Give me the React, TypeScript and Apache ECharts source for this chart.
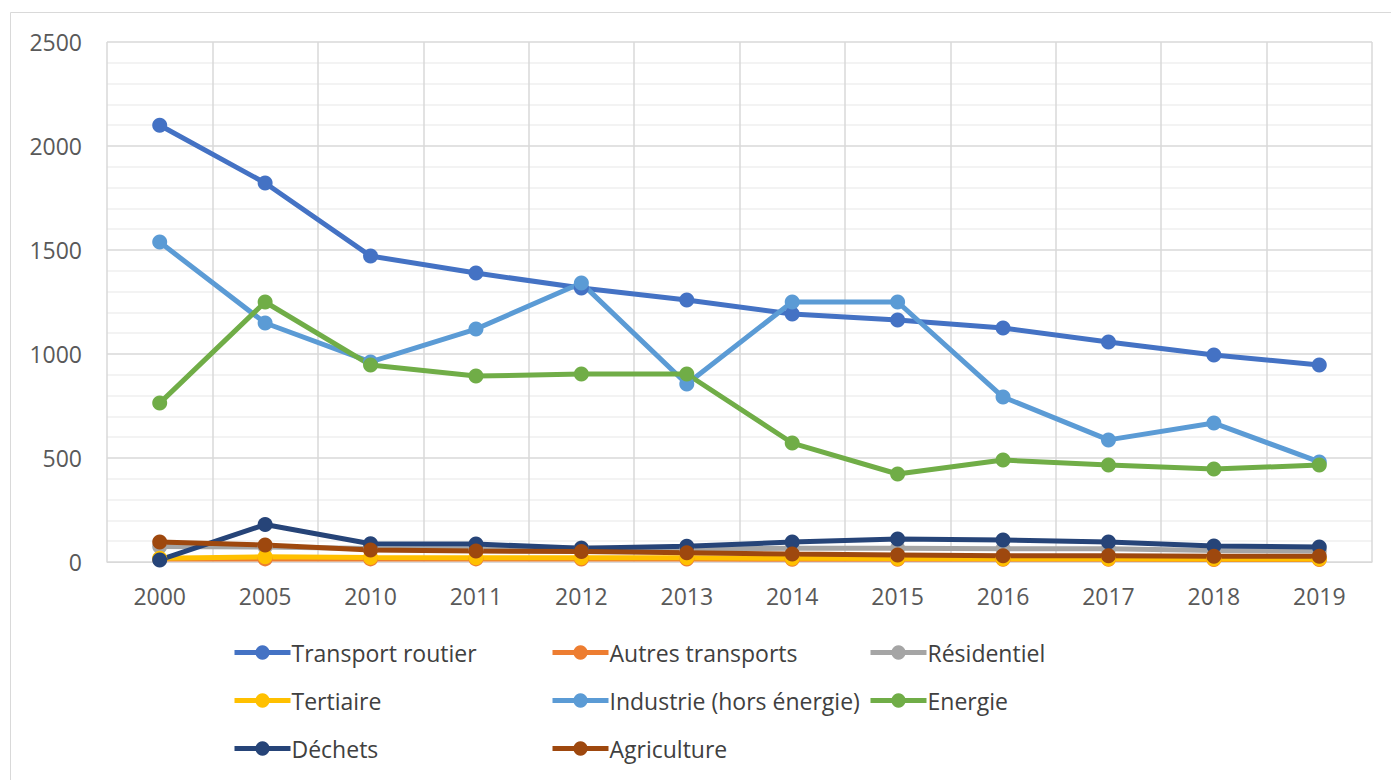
import React, { useEffect, useRef } from "react";
import * as echarts from "echarts";

const years = ["2000", "2005", "2010", "2011", "2012", "2013", "2014", "2015", "2016", "2017", "2018", "2019"];
const transportRoutier = [2100, 1822, 1471, 1389, 1317, 1260, 1192, 1163, 1125, 1058, 995, 947];
const autresTransports = [14, 15, 15, 15, 14, 14, 13, 13, 13, 13, 12, 12];
const residentiel = [75, 72, 65, 63, 67, 62, 66, 66, 64, 64, 55, 53];
const tertiaire = [18, 25, 22, 20, 20, 20, 18, 17, 16, 16, 15, 15];
const industrie = [1538, 1149, 962, 1120, 1341, 856, 1250, 1250, 793, 587, 668, 481];
const energie = [764, 1250, 947, 894, 904, 904, 572, 423, 490, 466, 447, 466];
const dechets = [10, 180, 88, 86, 66, 76, 96, 111, 106, 96, 77, 72];
const agriculture = [96, 82, 58, 53, 50, 45, 38, 34, 30, 30, 28, 28];

const seriesDefs = [
  { name: "Transport routier", data: transportRoutier, color: "#4472C4" },
  { name: "Autres transports", data: autresTransports, color: "#ED7D31" },
  { name: "Résidentiel", data: residentiel, color: "#A5A5A5" },
  { name: "Tertiaire", data: tertiaire, color: "#FFC000" },
  { name: "Industrie (hors énergie)", data: industrie, color: "#5B9BD5" },
  { name: "Energie", data: energie, color: "#70AD47" },
  { name: "Déchets", data: dechets, color: "#264478" },
  { name: "Agriculture", data: agriculture, color: "#9E480E" },
];

const legendCols = [
  ["Transport routier", "Tertiaire", "Déchets"],
  ["Autres transports", "Industrie (hors énergie)", "Agriculture"],
  ["Résidentiel", "Energie"],
];
const legendLefts = [227, 545, 863];

const FONT = "'Open Sans', 'Noto Sans', sans-serif";

export default function App() {
  const ref = useRef<HTMLDivElement>(null);
  useEffect(() => {
    if (!ref.current) return;
    const chart = echarts.init(ref.current, undefined, { renderer: "svg" });
    chart.setOption({
      animation: false,
      backgroundColor: "#ffffff",
      textStyle: { fontFamily: FONT },
      grid: { left: 107, right: 19, top: 42, bottom: 218, containLabel: false },
      xAxis: {
        type: "category",
        data: years,
        boundaryGap: true,
        axisLine: { show: true, lineStyle: { color: "#d9d9d9", width: 1 } },
        axisTick: { show: false },
        axisLabel: { color: "#595959", fontSize: 23, margin: 22, fontFamily: FONT },
        splitLine: { show: true, lineStyle: { color: "#d9d9d9", width: 1.5 } },
      },
      yAxis: {
        type: "value",
        min: 0,
        max: 2500,
        interval: 500,
        axisLine: { show: false },
        axisTick: { show: false },
        axisLabel: { color: "#595959", fontSize: 23, margin: 25, fontFamily: FONT, formatter: (v: number) => String(v) },
        splitLine: { show: true, lineStyle: { color: "#d9d9d9", width: 1.5 } },
        minorTick: { show: false, splitNumber: 5 },
        minorSplitLine: { show: true, lineStyle: { color: "#efefef", width: 1.5 } },
      },
      legend: legendCols.map((col, i) => ({
        orient: "vertical",
        left: legendLefts[i],
        top: 636,
        itemGap: 25,
        itemWidth: 56,
        itemHeight: 18,
        data: col,
        lineStyle: { width: 5 },
        textStyle: { color: "#404040", fontSize: 23, fontFamily: FONT, padding: [0, 0, 0, -4] },
      })),
      graphic: [
        {
          type: "rect",
          shape: { x: 10.5, y: 12.5, width: 1385, height: 790 },
          style: { fill: "none", stroke: "#d9d9d9", lineWidth: 1 },
          silent: true,
          z: -1,
        },
      ],
      series: seriesDefs.map((s) => ({
        name: s.name,
        type: "line",
        data: s.data,
        symbol: "circle",
        symbolSize: 15,
        lineStyle: { color: s.color, width: 5 },
        itemStyle: { color: s.color },
      })),
    });
    return () => chart.dispose();
  }, []);
  return <div ref={ref} style={{ position: "absolute", left: 0, top: 0, width: 1391, height: 780 }} />;
}
